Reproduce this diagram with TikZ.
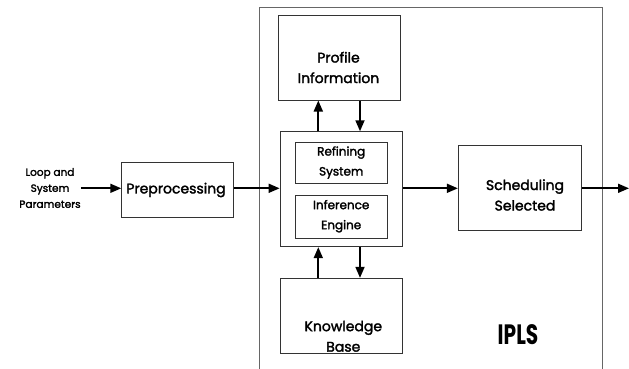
\documentclass[tikz,border=0pt]{standalone}
\usepackage{fontspec}
\setmainfont{Poppins}
\newfontfamily\medfont{Poppins}[FakeBold=2]
\usetikzlibrary{arrows.meta}
\tikzset{
  box/.style={draw=black!80, line width=0.9pt, inner sep=0pt},
  frame/.style={draw=black!60, line width=0.9pt},
  lbl/.style={align=center, inner sep=0pt, font=\medfont\fontsize{14}{20.5}\selectfont},
  small/.style={align=center, inner sep=0pt, font=\medfont\fontsize{12}{20}\selectfont},
  inlbl/.style={align=center, inner sep=0pt, font=\medfont\fontsize{10.5}{16}\selectfont},
  arr/.style={line width=1.7pt, -{Triangle[length=11pt,width=9pt]}},
}
\begin{document}
\begin{tikzpicture}[x=1pt,y=-1pt]
\useasboundingbox (0,0) rectangle (629,368);
\clip (0,0) rectangle (629,368);

% outer IPLS frame (runs past the lower edge)
\draw[frame] (259.5,7.3) rectangle (602,380);
\node[font=\bfseries\fontsize{28}{28}\selectfont, inner sep=0pt] (ipls) at (518,335) {\scalebox{0.72}[1]{IPLS}};

% blocks
\node[box, minimum width=111.6pt, minimum height=54.6pt] (pre) at (177.5,190) {};
\node[box, minimum width=121.7pt, minimum height=84.3pt] (prof) at (339.2,57.9) {};
\node[box, minimum width=122.3pt, minimum height=115pt] (core) at (341.2,189.2) {};
\node[box, minimum width=91.7pt, minimum height=41pt] (ref) at (341.2,162.8) {};
\node[box, minimum width=91.7pt, minimum height=43.3pt] (inf) at (341.2,216.7) {};
\node[box, minimum width=122pt, minimum height=75pt] (kb) at (341.7,315.8) {};
\node[box, minimum width=123.4pt, minimum height=84.3pt] (sch) at (520,187.9) {};

% texts
\node[inlbl] (inp) at (50,188) {Loop and\\System\\Parameters};
\node[lbl] (pretxt) at (176,190) {Preprocessing};
\node[lbl] (proftxt) at (338.5,67.5) {Profile\\Information};
\node[small] (reftxt) at (341.2,162.5) {Refining\\System};
\node[small] (inftxt) at (341.2,216.2) {Inference\\Engine};
\node[lbl] (schtxt) at (525,195) {Scheduling\\Selected};
\node[lbl] (kbtxt) at (343.3,336.3) {Knowledge\\Base};

% guide coordinates for the connectors
\coordinate (ay) at (0,188.3);
\coordinate (ux) at (318.3,0);
\coordinate (dx) at (360,0);
\coordinate (out) at (629,188.3);

% connectors
\draw[arr] (inp.east |- ay) -- (pre.west |- ay);
\draw[arr] (pre.east |- ay) -- (core.west |- ay);
\draw[arr] (core.east |- ay) -- (sch.west |- ay);
\draw[arr] (sch.east |- ay) -- (out);
\draw[arr] (core.north -| ux) -- (prof.south -| ux);
\draw[arr] (prof.south -| dx) -- (core.north -| dx);
\draw[arr] (kb.north -| ux) -- (core.south -| ux);
\draw[arr] (core.south -| dx) -- (kb.north -| dx);
\end{tikzpicture}
\end{document}
